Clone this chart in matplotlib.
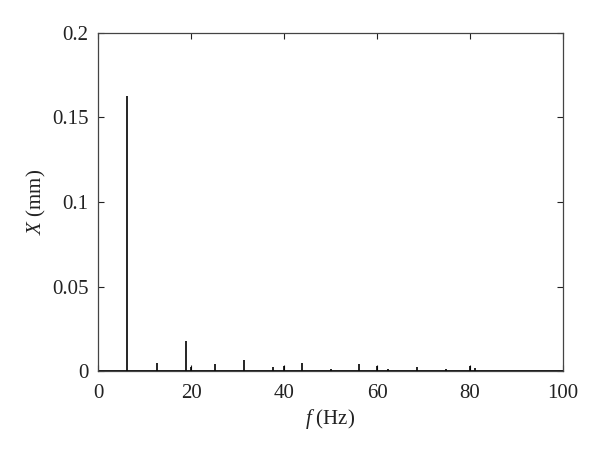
import matplotlib
matplotlib.use("Agg")
import matplotlib.pyplot as plt

# ================= DATA =================
# peak frequencies (Hz) and amplitudes (mm)
peak_freq = [6.3, 12.6, 18.9, 20.0, 25.2, 31.3, 37.6, 40.0, 43.8, 50.1,
             56.2, 60.1, 62.4, 68.7, 74.8, 80.0, 81.1]
peak_amp = [0.163, 0.0046, 0.0180, 0.0025, 0.0040, 0.0065, 0.0025, 0.0030,
            0.0045, 0.0012, 0.0040, 0.0030, 0.0012, 0.0025, 0.0010, 0.0030,
            0.0015]

x_ticks = [0, 20, 40, 60, 80, 100]
y_ticks = [0, 0.05, 0.1, 0.15, 0.2]
y_labels = ["0", "0.05", "0.1", "0.15", "0.2"]

# ================= PLOT =================
plt.rcParams["font.family"] = ["Liberation Serif", "DejaVu Serif"]
plt.rcParams["mathtext.fontset"] = "custom"
plt.rcParams["mathtext.it"] = "Liberation Serif:italic"
plt.rcParams["mathtext.rm"] = "Liberation Serif"

fig = plt.figure(figsize=(6.0, 4.57), dpi=100)
ax = fig.add_axes([98 / 600, 1 - 371 / 457, 465 / 600, 338 / 457])

ax.vlines(peak_freq, 0, peak_amp, color="black", linewidth=1.2)
ax.plot([0, 100], [0, 0], color="black", linewidth=2.0)

ax.set_xlim(0, 100)
ax.set_ylim(0, 0.2)
ax.set_xticks(x_ticks)
ax.set_yticks(y_ticks)
ax.set_yticklabels(y_labels)

ax.tick_params(direction="in", top=True, right=True, length=4, width=0.8,
               labelsize=15, colors="#222222")
ax.tick_params(axis="x", pad=9)
ax.tick_params(axis="y", pad=7)
for sp in ax.spines.values():
    sp.set_color("#444444")
    sp.set_linewidth(0.9)

ax.set_xlabel(r"$f\ $(Hz)", fontsize=15, color="#222222", labelpad=3)
ax.set_ylabel(r"$X$ (mm)", fontsize=15, color="#222222", labelpad=3)

fig.savefig("out.png", dpi=100)
